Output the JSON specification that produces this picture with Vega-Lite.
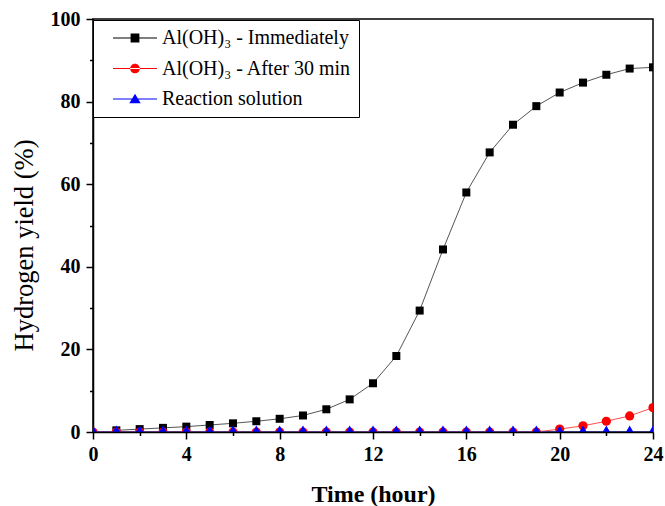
{
  "$schema": "https://vega.github.io/schema/vega-lite/v6.json",
  "width": 560,
  "height": 413,
  "autosize": "none",
  "padding": {"left": 93, "top": 19, "right": 12, "bottom": 74},
  "background": "white",
  "config": {
    "font": "Liberation Serif",
    "view": {"stroke": "black", "strokeWidth": 1.5},
    "axis": {
      "domainColor": "black", "domainWidth": 1.5,
      "tickColor": "black", "tickWidth": 1.5,
      "labelColor": "black", "titleColor": "black",
      "grid": false,
      "labelFont": "Liberation Serif", "titleFont": "Liberation Serif"
    }
  },
  "data": {
    "values": [
      {"hour": 1, "yield": 0.4, "series": "Al(OH)₃ - Immediately"},
      {"hour": 2, "yield": 0.7, "series": "Al(OH)₃ - Immediately"},
      {"hour": 3, "yield": 1.0, "series": "Al(OH)₃ - Immediately"},
      {"hour": 4, "yield": 1.3, "series": "Al(OH)₃ - Immediately"},
      {"hour": 5, "yield": 1.7, "series": "Al(OH)₃ - Immediately"},
      {"hour": 6, "yield": 2.1, "series": "Al(OH)₃ - Immediately"},
      {"hour": 7, "yield": 2.6, "series": "Al(OH)₃ - Immediately"},
      {"hour": 8, "yield": 3.2, "series": "Al(OH)₃ - Immediately"},
      {"hour": 9, "yield": 4.0, "series": "Al(OH)₃ - Immediately"},
      {"hour": 10, "yield": 5.5, "series": "Al(OH)₃ - Immediately"},
      {"hour": 11, "yield": 7.9, "series": "Al(OH)₃ - Immediately"},
      {"hour": 12, "yield": 11.8, "series": "Al(OH)₃ - Immediately"},
      {"hour": 13, "yield": 18.4, "series": "Al(OH)₃ - Immediately"},
      {"hour": 14, "yield": 29.4, "series": "Al(OH)₃ - Immediately"},
      {"hour": 15, "yield": 44.2, "series": "Al(OH)₃ - Immediately"},
      {"hour": 16, "yield": 58.0, "series": "Al(OH)₃ - Immediately"},
      {"hour": 17, "yield": 67.7, "series": "Al(OH)₃ - Immediately"},
      {"hour": 18, "yield": 74.4, "series": "Al(OH)₃ - Immediately"},
      {"hour": 19, "yield": 78.9, "series": "Al(OH)₃ - Immediately"},
      {"hour": 20, "yield": 82.2, "series": "Al(OH)₃ - Immediately"},
      {"hour": 21, "yield": 84.6, "series": "Al(OH)₃ - Immediately"},
      {"hour": 22, "yield": 86.5, "series": "Al(OH)₃ - Immediately"},
      {"hour": 23, "yield": 88.0, "series": "Al(OH)₃ - Immediately"},
      {"hour": 24, "yield": 88.3, "series": "Al(OH)₃ - Immediately"},
      {"hour": 0, "yield": 0, "series": "Al(OH)₃ - After 30 min"},
      {"hour": 1, "yield": 0, "series": "Al(OH)₃ - After 30 min"},
      {"hour": 2, "yield": 0, "series": "Al(OH)₃ - After 30 min"},
      {"hour": 3, "yield": 0, "series": "Al(OH)₃ - After 30 min"},
      {"hour": 4, "yield": 0, "series": "Al(OH)₃ - After 30 min"},
      {"hour": 5, "yield": 0, "series": "Al(OH)₃ - After 30 min"},
      {"hour": 6, "yield": 0, "series": "Al(OH)₃ - After 30 min"},
      {"hour": 7, "yield": 0, "series": "Al(OH)₃ - After 30 min"},
      {"hour": 8, "yield": 0, "series": "Al(OH)₃ - After 30 min"},
      {"hour": 9, "yield": 0, "series": "Al(OH)₃ - After 30 min"},
      {"hour": 10, "yield": 0, "series": "Al(OH)₃ - After 30 min"},
      {"hour": 11, "yield": 0, "series": "Al(OH)₃ - After 30 min"},
      {"hour": 12, "yield": 0, "series": "Al(OH)₃ - After 30 min"},
      {"hour": 13, "yield": 0, "series": "Al(OH)₃ - After 30 min"},
      {"hour": 14, "yield": 0, "series": "Al(OH)₃ - After 30 min"},
      {"hour": 15, "yield": 0, "series": "Al(OH)₃ - After 30 min"},
      {"hour": 16, "yield": 0, "series": "Al(OH)₃ - After 30 min"},
      {"hour": 17, "yield": 0, "series": "Al(OH)₃ - After 30 min"},
      {"hour": 18, "yield": 0, "series": "Al(OH)₃ - After 30 min"},
      {"hour": 19, "yield": 0, "series": "Al(OH)₃ - After 30 min"},
      {"hour": 20, "yield": 0.7, "series": "Al(OH)₃ - After 30 min"},
      {"hour": 21, "yield": 1.5, "series": "Al(OH)₃ - After 30 min"},
      {"hour": 22, "yield": 2.6, "series": "Al(OH)₃ - After 30 min"},
      {"hour": 23, "yield": 3.9, "series": "Al(OH)₃ - After 30 min"},
      {"hour": 24, "yield": 5.9, "series": "Al(OH)₃ - After 30 min"},
      {"hour": 0, "yield": 0, "series": "Reaction solution"},
      {"hour": 1, "yield": 0, "series": "Reaction solution"},
      {"hour": 2, "yield": 0, "series": "Reaction solution"},
      {"hour": 3, "yield": 0, "series": "Reaction solution"},
      {"hour": 4, "yield": 0, "series": "Reaction solution"},
      {"hour": 5, "yield": 0, "series": "Reaction solution"},
      {"hour": 6, "yield": 0, "series": "Reaction solution"},
      {"hour": 7, "yield": 0, "series": "Reaction solution"},
      {"hour": 8, "yield": 0, "series": "Reaction solution"},
      {"hour": 9, "yield": 0, "series": "Reaction solution"},
      {"hour": 10, "yield": 0, "series": "Reaction solution"},
      {"hour": 11, "yield": 0, "series": "Reaction solution"},
      {"hour": 12, "yield": 0, "series": "Reaction solution"},
      {"hour": 13, "yield": 0, "series": "Reaction solution"},
      {"hour": 14, "yield": 0, "series": "Reaction solution"},
      {"hour": 15, "yield": 0, "series": "Reaction solution"},
      {"hour": 16, "yield": 0, "series": "Reaction solution"},
      {"hour": 17, "yield": 0, "series": "Reaction solution"},
      {"hour": 18, "yield": 0, "series": "Reaction solution"},
      {"hour": 19, "yield": 0, "series": "Reaction solution"},
      {"hour": 20, "yield": 0, "series": "Reaction solution"},
      {"hour": 21, "yield": 0, "series": "Reaction solution"},
      {"hour": 22, "yield": 0, "series": "Reaction solution"},
      {"hour": 23, "yield": 0, "series": "Reaction solution"},
      {"hour": 24, "yield": 0, "series": "Reaction solution"}
    ]
  },
  "encoding": {
    "x": {
      "field": "hour", "type": "quantitative",
      "scale": {"domain": [0, 24], "nice": false},
      "axis": {
        "values": [0, 2, 4, 6, 8, 10, 12, 14, 16, 18, 20, 22, 24],
        "labelExpr": "datum.value % 4 === 0 ? datum.label : ''",
        "tickSize": {"condition": {"test": "datum.value % 4 !== 0", "value": 3.5}, "value": 7},
        "labelFontSize": 20, "labelFontWeight": "bold", "labelPadding": 5,
        "labelFlush": false, "labelOverlap": false,
        "title": "Time (hour)", "titleFontSize": 24, "titleFontWeight": "bold", "titlePadding": 18,
        "zindex": 1
      }
    },
    "y": {
      "field": "yield", "type": "quantitative",
      "scale": {"domain": [0, 100], "nice": false},
      "axis": {
        "values": [0, 10, 20, 30, 40, 50, 60, 70, 80, 90, 100],
        "labelExpr": "datum.value % 20 === 0 ? datum.label : ''",
        "tickSize": {"condition": {"test": "datum.value % 20 !== 0", "value": 3.5}, "value": 7},
        "labelFontSize": 20, "labelFontWeight": "bold", "labelPadding": 6,
        "labelFlush": false, "labelOverlap": false,
        "title": "Hydrogen yield (%)", "titleFontSize": 26.5, "titleFontWeight": "normal", "titlePadding": 12,
        "titleY": 226
      }
    }
  },
  "layer": [
    {
      "transform": [{"filter": "datum.series === 'Al(OH)₃ - Immediately'"}],
      "mark": {"type": "line", "strokeWidth": 1, "color": "#555555", "clip": true}
    },
    {
      "transform": [{"filter": "datum.series === 'Al(OH)₃ - Immediately'"}],
      "mark": {"type": "point", "shape": "square", "filled": true, "size": 64, "color": "black", "opacity": 1, "clip": true}
    },
    {
      "transform": [{"filter": "datum.series === 'Al(OH)₃ - After 30 min'"}],
      "mark": {"type": "line", "strokeWidth": 1, "color": "#ff4d4d", "clip": true}
    },
    {
      "transform": [{"filter": "datum.series === 'Al(OH)₃ - After 30 min'"}],
      "mark": {"type": "point", "shape": "circle", "filled": true, "size": 85, "color": "red", "opacity": 1, "clip": true}
    },
    {
      "transform": [{"filter": "datum.series === 'Reaction solution'"}],
      "mark": {"type": "line", "strokeWidth": 1, "color": "#4d4dff", "clip": true}
    },
    {
      "transform": [{"filter": "datum.series === 'Reaction solution'"}],
      "mark": {"type": "point", "shape": "triangle-up", "filled": true, "size": 220, "color": "blue", "opacity": 1, "clip": true}
    },
    {
      "mark": {"type": "point", "filled": true, "opacity": 0, "clip": true},
      "encoding": {
        "color": {
          "field": "series", "type": "nominal",
          "scale": {"domain": ["Al(OH)₃ - Immediately", "Al(OH)₃ - After 30 min", "Reaction solution"], "range": ["black", "red", "blue"]},
          "legend": {
            "title": null, "orient": "none", "legendX": 0, "legendY": 1,
            "padding": 7, "strokeColor": "black", "fillColor": "white",
            "labelFont": "Liberation Serif", "labelFontSize": 20, "labelColor": "black", "labelLimit": 400,
            "symbolSize": 1936, "symbolOffset": 13, "labelOffset": 5,
            "clipHeight": 22, "rowPadding": 8.5, "symbolOpacity": 1, "symbolStrokeWidth": 0
          }
        },
        "shape": {
          "field": "series", "type": "nominal",
          "scale": {
            "domain": ["Al(OH)₃ - Immediately", "Al(OH)₃ - After 30 min", "Reaction solution"],
            "range": [
              "M-1,-0.025H1V0.025H-1Z M-0.2,-0.2H0.2V0.2H-0.2Z",
              "M-1,-0.025H1V0.025H-1Z M-0.22,0A0.22,0.22 0 1,0 0.22,0A0.22,0.22 0 1,0 -0.22,0Z",
              "M-1,-0.025H1V0.025H-1Z M0,-0.24L0.26,0.19L-0.26,0.19Z"
            ]
          },
          "legend": {
            "title": null, "orient": "none", "legendX": 0, "legendY": 1,
            "padding": 7, "strokeColor": "black", "fillColor": "white",
            "labelFont": "Liberation Serif", "labelFontSize": 20, "labelColor": "black", "labelLimit": 400,
            "symbolSize": 1936, "symbolOffset": 13, "labelOffset": 5,
            "clipHeight": 22, "rowPadding": 8.5, "symbolOpacity": 1, "symbolStrokeWidth": 0
          }
        }
      }
    }
  ]
}
